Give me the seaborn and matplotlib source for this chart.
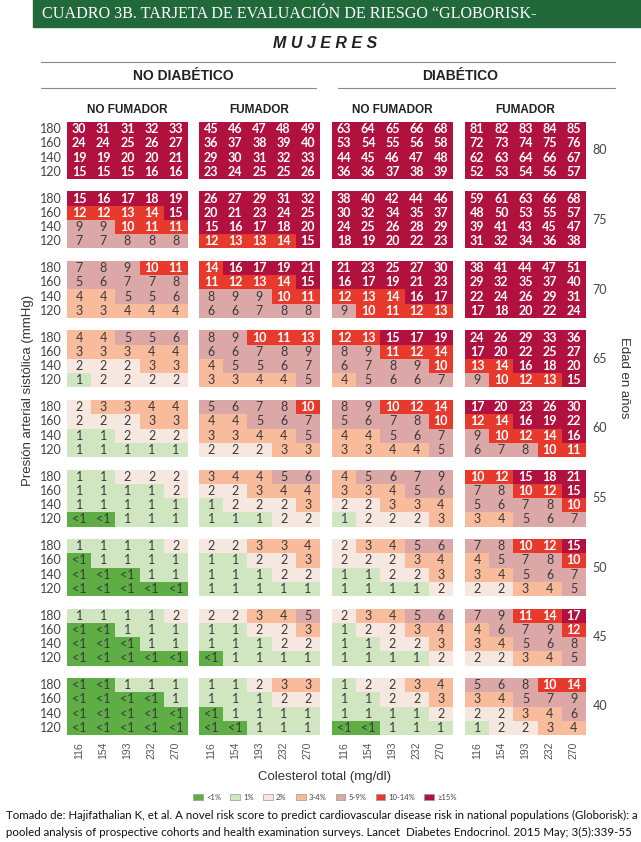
import numpy as np
import seaborn as sns
import matplotlib.pyplot as plt
from matplotlib.colors import ListedColormap
from matplotlib.patches import Patch, Rectangle
from matplotlib.lines import Line2D

sns.set_theme(style="white")
plt.rcParams["font.family"] = ["Lato", "DejaVu Sans"]

edades = [80, 75, 70, 65, 60, 55, 50, 45, 40]
presion = [180, 160, 140, 120]
colesterol = [116, 154, 193, 232, 270]

# riesgo cardiovascular a 10 años (%); 0 significa "<1"
no_diab_no_fum = [
    [[30, 31, 31, 32, 33], [24, 24, 25, 26, 27], [19, 19, 20, 20, 21], [15, 15, 15, 16, 16]],
    [[15, 16, 17, 18, 19], [12, 12, 13, 14, 15], [9, 9, 10, 11, 11], [7, 7, 8, 8, 8]],
    [[7, 8, 9, 10, 11], [5, 6, 7, 7, 8], [4, 4, 5, 5, 6], [3, 3, 4, 4, 4]],
    [[4, 4, 5, 5, 6], [3, 3, 3, 4, 4], [2, 2, 2, 3, 3], [1, 2, 2, 2, 2]],
    [[2, 3, 3, 4, 4], [2, 2, 2, 3, 3], [1, 1, 2, 2, 2], [1, 1, 1, 1, 1]],
    [[1, 1, 2, 2, 2], [1, 1, 1, 1, 2], [1, 1, 1, 1, 1], [0, 0, 1, 1, 1]],
    [[1, 1, 1, 1, 2], [0, 1, 1, 1, 1], [0, 0, 0, 1, 1], [0, 0, 0, 0, 0]],
    [[1, 1, 1, 1, 2], [0, 0, 1, 1, 1], [0, 0, 0, 1, 1], [0, 0, 0, 0, 0]],
    [[0, 0, 1, 1, 1], [0, 0, 0, 0, 1], [0, 0, 0, 0, 0], [0, 0, 0, 0, 0]],
]
no_diab_fum = [
    [[45, 46, 47, 48, 49], [36, 37, 38, 39, 40], [29, 30, 31, 32, 33], [23, 24, 25, 25, 26]],
    [[26, 27, 29, 31, 32], [20, 21, 23, 24, 25], [15, 16, 17, 18, 20], [12, 13, 13, 14, 15]],
    [[14, 16, 17, 19, 21], [11, 12, 13, 14, 15], [8, 9, 9, 10, 11], [6, 6, 7, 8, 8]],
    [[8, 9, 10, 11, 13], [6, 6, 7, 8, 9], [4, 5, 5, 6, 7], [3, 3, 4, 4, 5]],
    [[5, 6, 7, 8, 10], [4, 4, 5, 6, 7], [3, 3, 4, 4, 5], [2, 2, 2, 3, 3]],
    [[3, 4, 4, 5, 6], [2, 2, 3, 4, 4], [1, 2, 2, 2, 3], [1, 1, 1, 2, 2]],
    [[2, 2, 3, 3, 4], [1, 1, 2, 2, 3], [1, 1, 1, 2, 2], [1, 1, 1, 1, 1]],
    [[2, 2, 3, 4, 5], [1, 1, 2, 2, 3], [1, 1, 1, 2, 2], [0, 1, 1, 1, 1]],
    [[1, 1, 2, 3, 3], [1, 1, 1, 2, 2], [0, 1, 1, 1, 1], [0, 0, 1, 1, 1]],
]
diab_no_fum = [
    [[63, 64, 65, 66, 68], [53, 54, 55, 56, 58], [44, 45, 46, 47, 48], [36, 36, 37, 38, 39]],
    [[38, 40, 42, 44, 46], [30, 32, 34, 35, 37], [24, 25, 26, 28, 29], [18, 19, 20, 22, 23]],
    [[21, 23, 25, 27, 30], [16, 17, 19, 21, 23], [12, 13, 14, 16, 17], [9, 10, 11, 12, 13]],
    [[12, 13, 15, 17, 19], [8, 9, 11, 12, 14], [6, 7, 8, 9, 10], [4, 5, 6, 6, 7]],
    [[8, 9, 10, 12, 14], [5, 6, 7, 8, 10], [4, 4, 5, 6, 7], [3, 3, 4, 4, 5]],
    [[4, 5, 6, 7, 9], [3, 3, 4, 5, 6], [2, 2, 3, 3, 4], [1, 2, 2, 2, 3]],
    [[2, 3, 4, 5, 6], [2, 2, 2, 3, 4], [1, 1, 2, 2, 3], [1, 1, 1, 1, 2]],
    [[2, 3, 4, 5, 6], [1, 2, 2, 3, 4], [1, 1, 2, 2, 3], [1, 1, 1, 1, 2]],
    [[1, 2, 2, 3, 4], [1, 1, 2, 2, 3], [1, 1, 1, 1, 2], [0, 0, 1, 1, 1]],
]
diab_fum = [
    [[81, 82, 83, 84, 85], [72, 73, 74, 75, 76], [62, 63, 64, 66, 67], [52, 53, 54, 56, 57]],
    [[59, 61, 63, 66, 68], [48, 50, 53, 55, 57], [39, 41, 43, 45, 47], [31, 32, 34, 36, 38]],
    [[38, 41, 44, 47, 51], [29, 32, 35, 37, 40], [22, 24, 26, 29, 31], [17, 18, 20, 22, 24]],
    [[24, 26, 29, 33, 36], [17, 20, 22, 25, 27], [13, 14, 16, 18, 20], [9, 10, 12, 13, 15]],
    [[17, 20, 23, 26, 30], [12, 14, 16, 19, 22], [9, 10, 12, 14, 16], [6, 7, 8, 10, 11]],
    [[10, 12, 15, 18, 21], [7, 8, 10, 12, 15], [5, 6, 7, 8, 10], [3, 4, 5, 6, 7]],
    [[7, 8, 10, 12, 15], [4, 5, 7, 8, 10], [3, 4, 5, 6, 7], [2, 2, 3, 4, 5]],
    [[7, 9, 11, 14, 17], [4, 6, 7, 9, 12], [3, 4, 5, 6, 8], [2, 2, 3, 4, 5]],
    [[5, 6, 8, 10, 14], [3, 4, 5, 7, 9], [2, 2, 3, 4, 6], [1, 2, 2, 3, 4]],
]
bloques = [no_diab_no_fum, no_diab_fum, diab_no_fum, diab_fum]

categorias = ["<1%", "1%", "2%", "3-4%", "5-9%", "10-14%", "\u226515%"]
limites = [1, 2, 3, 5, 10, 15]
colores = ["#5fae45", "#cfe6c0", "#f7e7e1", "#f8bb9c", "#dca8a7", "#e8392d", "#b0113f"]
cmap = ListedColormap(colores)

W, H = 641, 842
fig = plt.figure(figsize=(W / 100, H / 100), dpi=100)

def fx(px):
    return px / W

def fy(py):
    return 1 - py / H

# banda de título
fig.patches.append(Rectangle((fx(33), fy(27)), 1 - fx(33), 27 / H,
                             transform=fig.transFigure, color="#21693a", zorder=0))
fig.text(fx(42), fy(14), "CUADRO 3B. TARJETA DE EVALUACIÓN DE RIESGO \u201cGLOBORISK-",
         family="Liberation Serif", fontsize=11.6, color="white", va="center")
fig.text(fx(325), fy(44), "M U J E R E S", family="Liberation Sans", fontsize=11.5,
         fontweight="bold", fontstyle="italic", color="#222222", ha="center", va="center")

for x0, x1, y in [(41, 615, 62), (41, 316, 88), (338, 615, 88)]:
    fig.add_artist(Line2D([fx(x0), fx(x1)], [fy(y), fy(y)], transform=fig.transFigure,
                          color="#888888", lw=0.8))

fig.text(fx(183), fy(76), "NO DIABÉTICO", family="Liberation Sans", fontsize=10,
         fontweight="bold", color="#222222", ha="center", va="center")
fig.text(fx(460), fy(76), "DIABÉTICO", family="Liberation Sans", fontsize=10,
         fontweight="bold", color="#222222", ha="center", va="center")

x_bloques = [67, 199, 332, 465]
ancho, alto = 121, 57
y_top0, paso = 122, 69.5

for b, bloque in enumerate(bloques):
    fig.text(fx(x_bloques[b] + ancho / 2), fy(110), ["NO FUMADOR", "FUMADOR"][b % 2],
             family="Liberation Sans", fontsize=8.5, fontweight="bold", color="#222222",
             ha="center", va="center")
    for i, edad in enumerate(edades):
        valores = np.array(bloque[i])
        cat = np.digitize(valores, limites)
        etiquetas = np.where(valores == 0, "<1", valores.astype(str))
        top = y_top0 + paso * i
        ax = fig.add_axes([fx(x_bloques[b]), fy(top + alto), ancho / W, alto / H])
        sns.heatmap(cat, annot=etiquetas, fmt="", cmap=cmap, vmin=-0.5, vmax=6.5,
                    cbar=False, ax=ax,
                    xticklabels=colesterol if i == len(edades) - 1 else False,
                    yticklabels=presion if b == 0 else False,
                    annot_kws={"fontsize": 9})
        for t, c in zip(ax.texts, cat.ravel()):
            if c >= 5:
                t.set_color("white")
                t.set_fontweight("bold")
            else:
                t.set_color("#3a3a3a")
        ax.tick_params(axis="y", labelrotation=0, length=0, pad=4, labelsize=9,
                       labelcolor="#444444")
        ax.tick_params(axis="x", labelrotation=90, length=0, pad=5, labelsize=7.5,
                       labelcolor="#555555")
        for lab in ax.get_xticklabels():
            lab.set_family("Liberation Sans")
        if b == 3:
            fig.text(fx(600), fy(top + alto / 2), str(edad), fontsize=9, color="#444444",
                     ha="center", va="center")

fig.text(fx(28), fy(390), "Presión arterial sistólica (mmHg)", family="Liberation Sans",
         fontsize=9.5, color="#333333", rotation=90, ha="center", va="center")
fig.text(fx(624), fy(378), "Edad en años", family="Liberation Sans", fontsize=9.5,
         color="#333333", rotation=270, ha="center", va="center")
fig.text(fx(325), fy(777), "Colesterol total (mg/dl)", family="Liberation Sans",
         fontsize=9.5, color="#333333", ha="center", va="center")

manijas = [Patch(facecolor=c, edgecolor="#999999", lw=0.5) for c in colores]
fig.legend(manijas, categorias, loc="center", bbox_to_anchor=(fx(325), fy(797)), ncol=7,
           frameon=False, fontsize=5.5, handlelength=1.3, handleheight=0.9,
           columnspacing=1.2, handletextpad=0.4, labelcolor="#444444")

fig.text(fx(6), fy(815),
         "Tomado de: Hajifathalian K, et al. A novel risk score to predict cardiovascular "
         "disease risk in national populations (Globorisk): a",
         fontsize=8.3, color="#111111", va="center")
fig.text(fx(6), fy(832),
         "pooled analysis of prospective cohorts and health examination surveys. Lancet  "
         "Diabetes Endocrinol. 2015 May; 3(5):339-55",
         fontsize=8.3, color="#111111", va="center")

fig.savefig("out.png", dpi=100)
plt.close(fig)
